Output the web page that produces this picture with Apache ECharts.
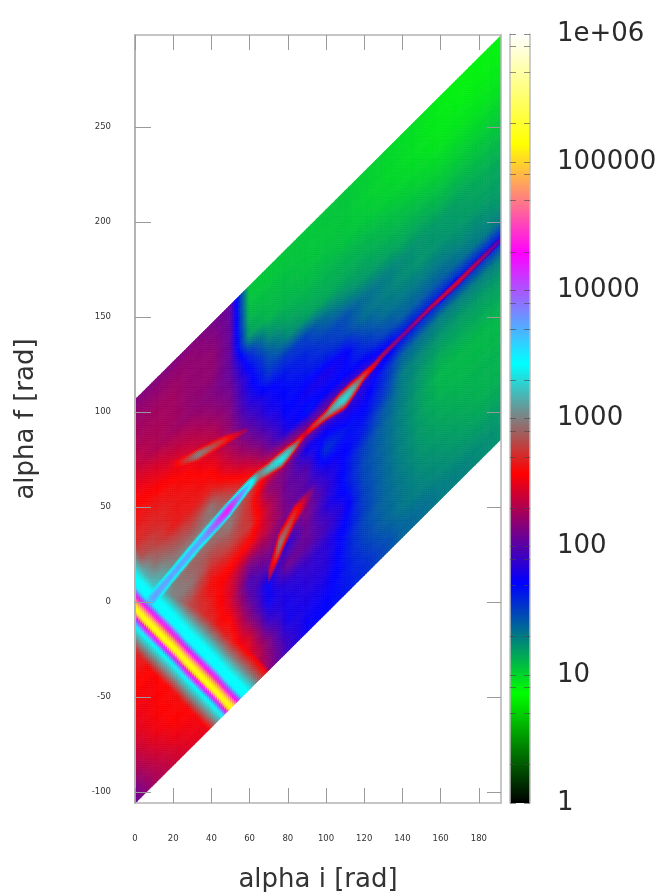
<!DOCTYPE html>
<html><head><meta charset="utf-8">
<style>html,body{margin:0;padding:0;background:#fff}#c{width:661px;height:892px;filter:blur(0.5px)}</style>
<script src="https://cdn.jsdelivr.net/npm/echarts@6/dist/echarts.min.js"></script>
</head><body><div id="c"></div>
<script>
// Colour scale: exponent of the value -> colour
const paletteLevels = [0, 0.857, 1.714, 2.571, 3.429, 4.286, 5.143, 6];
const paletteColors = ['#000000','#00ff00','#0000ff','#ff0000','#00ffff','#ff00ff','#ffff00','#ffffff'];
const barTickLabels = [0,1,2,3,4,5,6];
const barLabelText = ['1','10','100','1000','10000','100000','1e+06'];
const barMinorTicks = [0,0.301,0.699,0.903,1,1.301,1.699,1.903,2,2.301,2.699,2.903,3,3.301,3.699,3.903,4,4.301,4.699,4.903,5,5.301,5.699,5.903,6];
const xTicks = [0,20,40,60,80,100,120,140,160,180];
const yTicks = [-100,-50,0,50,100,150,200,250];
// Read-off nodes: alpha i, and (alpha f - alpha i)
const xNodes = [0,10,20,30,40,50,60,70,80,90,100,110,120,130,140,150,160,170,180,191.5];
const vNodes = [106.5,100,90,80,70,60,50,40,30,20,10,0,-10,-20,-30,-40,-50,-60,-70,-80,-90,-100,-106];
// log10 of the value at each node, one row per vNodes entry
const zRows = [
[2.15,2.15,2.15,2.15,2.12,2.05,1.05,1.05,1.05,1.05,1.05,1.05,1.02,1.0,.98,.95,.92,.9,.9,.9],
[2.2,2.2,2.2,2.2,2.15,2.05,1.05,1.05,1.05,1.05,1.05,1.05,1.02,1.0,.98,.95,.92,.9,.9,.9],
[2.25,2.25,2.25,2.2,2.2,2.05,1.1,1.08,1.08,1.05,1.05,1.05,1.02,1.0,.98,.95,.93,.92,.92,.92],
[2.3,2.28,2.25,2.2,2.2,2.05,1.2,1.1,1.1,1.08,1.08,1.06,1.05,1.02,1.0,.98,.95,.95,.95,.95],
[2.4,2.3,2.25,2.2,2.15,2.05,1.6,1.25,1.15,1.12,1.12,1.12,1.1,1.08,1.05,1.02,1.0,1.0,1.0,1.0],
[2.5,2.45,2.35,2.3,2.2,2.1,1.75,1.45,1.25,1.18,1.15,1.15,1.15,1.12,1.1,1.08,1.05,1.05,1.05,1.05],
[2.6,2.55,2.5,2.4,2.3,2.15,1.8,1.55,1.55,1.5,1.35,1.25,1.2,1.18,1.15,1.15,1.12,1.12,1.1,1.1],
[2.65,2.65,2.62,2.55,2.4,2.2,1.9,1.75,1.65,1.6,1.5,1.45,1.35,1.3,1.25,1.22,1.2,1.18,1.15,1.15],
[2.72,2.7,2.65,2.62,2.55,2.3,2.05,1.8,1.7,1.65,1.6,1.5,1.35,1.3,1.25,1.22,1.22,1.2,1.18,1.18],
[2.88,2.8,2.65,2.65,2.65,2.45,2.2,1.95,1.7,1.78,1.8,1.75,1.5,1.35,1.32,1.3,1.3,1.25,1.25,1.2],
[3.4,2.95,2.85,2.8,2.95,2.7,2.45,2.1,1.8,1.65,1.72,1.7,1.65,1.5,1.4,1.4,1.4,1.35,1.3,1.3],
[3.5,3.2,3.0,3.0,3.0,3.0,2.8,2.55,2.4,2.2,2.15,2.0,1.9,1.8,1.7,1.65,1.65,1.65,1.65,1.65],
[3.0,3.4,3.0,2.9,2.9,2.95,2.7,2.2,2.1,1.75,1.75,1.85,1.8,1.6,1.4,1.35,1.3,1.3,1.3,1.3],
[2.85,2.8,3.0,2.95,2.75,2.8,2.75,2.35,2.05,2.0,1.55,1.65,1.7,1.55,1.3,1.25,1.22,1.2,1.2,1.2],
[2.65,2.75,2.9,2.8,2.6,2.6,2.55,2.35,2.1,2.0,1.8,1.72,1.62,1.42,1.3,1.2,1.15,1.15,1.15,1.15],
[2.6,2.6,2.7,2.8,2.65,2.45,2.15,2.2,2.1,2.15,1.9,1.68,1.5,1.38,1.28,1.18,1.1,1.1,1.1,1.1],
[2.55,2.55,2.65,2.7,2.7,2.45,1.95,2.05,1.85,2.1,1.85,1.68,1.48,1.38,1.28,1.18,1.12,1.1,1.1,1.1],
[2.5,2.55,2.6,2.7,2.7,2.58,2.05,1.72,2.1,2.05,1.95,1.78,1.5,1.38,1.28,1.2,1.15,1.12,1.12,1.12],
[2.45,2.55,2.6,2.65,2.7,2.7,2.2,1.75,1.85,1.9,1.85,1.7,1.52,1.38,1.3,1.22,1.18,1.15,1.12,1.12],
[2.35,2.5,2.58,2.6,2.62,2.7,2.45,1.9,1.78,1.85,1.85,1.65,1.48,1.38,1.32,1.25,1.22,1.18,1.15,1.15],
[2.25,2.4,2.52,2.55,2.6,2.65,2.5,2.15,1.78,1.8,1.78,1.65,1.52,1.4,1.32,1.28,1.25,1.22,1.2,1.2],
[2.1,2.3,2.42,2.5,2.55,2.58,2.5,2.2,1.9,1.75,1.72,1.65,1.58,1.48,1.38,1.35,1.3,1.28,1.25,1.22],
[2.05,2.25,2.38,2.45,2.5,2.55,2.45,2.2,1.9,1.75,1.72,1.65,1.58,1.48,1.38,1.35,1.3,1.28,1.25,1.22]
];
// Narrow stripe running from the top-left down to the lower edge
const bandY0 = -3.2, bandSlope = 1.035;
const bandOffsets = [-24,-16,-11,-8.5,-6,-4,-2.5,0,2.5,5,6.7,9,11,17,20,26,32,38];
const bandLogs = [2.5,3.0,3.3,3.45,4.0,4.3,5.0,5.2,5.0,4.6,4.25,3.9,3.45,3.43,3.3,3.0,2.75,2.5];
// Main diagonal ridge
const ridgeX = [6,10,35,49,60,65,70,74,77,80,84,89,93,100,103,107,110,113,116,120,125,130,140,155,169,180,192];
const ridgeY = [-1,2.6,32.6,48.4,61.6,66.8,70,73,75,78,82,88,92,98,101,104.7,107,110.5,114,119,124,130,140,155,168,179,191];
const ridgePeak = [3.6,3.75,3.75,4.25,3.6,3.0,3.2,3.3,3.35,3.25,3.0,2.4,2.7,2.95,3.1,3.25,3.3,3.22,3.05,2.8,2.5,2.3,2.15,2.35,2.45,2.3,2.0];
const ridgeWidth = [5,5,5,5,4,3.5,3.8,4.6,5,4.5,3,2,2.5,3,4.5,6,6.5,6,4.8,3.2,2.5,2.2,2.2,2.2,2.6,2.4,2.2];
// Upper-left side lobe
const lobeAX = [17.6,33,47,59];
const lobeAY = [70.5,77.4,85,90.5];
const lobeAPeak = [2.4,3.0,2.7,2.2];
const lobeAWidth = [2,3.5,3,1.5];
// Lower-right side lobe
const lobeBX = [69.6,75.8,83.6,94.5];
const lobeBY = [12.6,30,45.8,60];
const lobeBPeak = [2.2,2.98,2.7,2.0];
const lobeBWidth = [5,8,6,3];

function lerp(xs, ys, x) {
  if (x < xs[0] || x > xs[xs.length-1]) return null;
  for (let i = 1; i < xs.length; i++) if (x <= xs[i]) {
    const t = (x - xs[i-1]) / (xs[i] - xs[i-1]);
    return ys[i-1] + t * (ys[i] - ys[i-1]);
  }
  return ys[ys.length-1];
}
function nodeValue(c, r, a, b) { // bilinear shading inside one read-off cell
  const p = zRows[r], q = zRows[r+1];
  return (p[c]*(1-a)+p[c+1]*a)*(1-b) + (q[c]*(1-a)+q[c+1]*a)*b;
}
const features = [
  [ridgeX,ridgeY,ridgePeak,ridgeWidth],
  [lobeAX,lobeAY,lobeAPeak,lobeAWidth],
  [lobeBX,lobeBY,lobeBPeak,lobeBWidth]
];
function shade(c, r, a, b, x, y) {
  const base = nodeValue(c, r, a, b);
  let z = base;
  const s = x - (bandY0 - y) / bandSlope;
  const bv = lerp(bandOffsets, bandLogs, s);
  if (bv !== null && bv > z) z = bv;
  for (const f of features) {
    const yc = lerp(f[0], f[1], x);
    if (yc === null) continue;
    const pk = lerp(f[0], f[2], x), w = lerp(f[0], f[3], x);
    const t = (y - yc) / w;
    if (Math.abs(t) < 1 && pk > base) {
      const k = base + (pk - base) * (1 - t*t);
      if (k > z) z = k;
    }
  }
  return z;
}
const rgb = paletteColors.map(h => [parseInt(h.slice(1,3),16),parseInt(h.slice(3,5),16),parseInt(h.slice(5,7),16)]);
function colorOf(z) {
  z = Math.max(0, Math.min(6, z));
  for (let i = 1; i < paletteLevels.length; i++) if (z <= paletteLevels[i]) {
    const t = (z - paletteLevels[i-1]) / (paletteLevels[i] - paletteLevels[i-1]);
    const m = j => Math.round(rgb[i-1][j] + t * (rgb[i][j] - rgb[i-1][j]));
    return 'rgb(' + m(0) + ',' + m(1) + ',' + m(2) + ')';
  }
  return '#fff';
}
const cells = [];
for (let r = 0; r < vNodes.length-1; r++) for (let c = 0; c < xNodes.length-1; c++) cells.push([xNodes[c], xNodes[c]+vNodes[r], c, r]);
const SUB = 10;
function renderCell(params, api) {
  const c = api.value(2), r = api.value(3);
  const x0 = xNodes[c], dx = xNodes[c+1]-x0, v0 = vNodes[r], dv = vNodes[r+1]-v0;
  const children = [];
  for (let i = 0; i < SUB; i++) for (let j = 0; j < SUB; j++) {
    const a0=i/SUB, a1=(i+1)/SUB, b0=j/SUB, b1=(j+1)/SUB;
    const pt = (a,b) => { const x=x0+a*dx, v=v0+b*dv; return api.coord([x, x+v]); };
    const am=(a0+a1)/2, bm=(b0+b1)/2, xm=x0+am*dx, vm=v0+bm*dv;
    const col = colorOf(shade(c, r, am, bm, xm, xm+vm));
    children.push({type:'polygon', silent:true,
      shape:{points:[pt(a0,b0),pt(a1,b0),pt(a1,b1),pt(a0,b1)]},
      style:{fill:col, stroke:col, lineWidth:0.6}});
  }
  return {type:'group', children};
}
function renderBar(params, api) {
  const p0 = api.coord([0, 6]), p1 = api.coord([1, 0]);
  const stops = paletteLevels.map((l,i) => ({offset:l/6, color:paletteColors[i]}));
  return {type:'rect', silent:true,
    shape:{x:p0[0], y:p0[1], width:p1[0]-p0[0], height:p1[1]-p0[1]},
    style:{fill:new echarts.graphic.LinearGradient(0,1,0,0,stops)}};
}
const frame = {lineStyle:{color:'#b4b4b4', width:1.5}};
const tickStyle = {color:'#9a9a9a', width:1};
const smallLabel = {fontFamily:'DejaVu Sans', fontSize:8.5, color:'#333'};
const xRange = {min:0, max:191.6}, yRange = {min:-105.8, max:298.4};
const chart = echarts.init(document.getElementById('c'), null, {renderer:'canvas'});
chart.setOption({
  animation:false, backgroundColor:'#fff',
  grid:[
    {left:135, top:35, width:366, height:768, outerBoundsMode:'none'},
    {left:510, top:34, width:20, height:769, outerBoundsMode:'none'}
  ],
  xAxis:[
    {type:'value', gridIndex:0, position:'bottom', ...xRange, z:5, splitLine:{show:false},
      axisLine:{show:true, onZero:false, ...frame},
      axisTick:{show:true, inside:true, length:15, lineStyle:tickStyle, customValues:xTicks},
      axisLabel:{...smallLabel, margin:31, customValues:xTicks},
      name:'alpha i [rad]', nameLocation:'middle', nameGap:64,
      nameTextStyle:{fontFamily:'DejaVu Sans', fontSize:26, color:'#333'}},
    {type:'value', gridIndex:0, position:'top', ...xRange, z:5, splitLine:{show:false},
      axisLine:{show:true, onZero:false, ...frame},
      axisTick:{show:true, inside:true, length:15, lineStyle:tickStyle, customValues:xTicks},
      axisLabel:{show:false}},
    {type:'value', gridIndex:1, min:0, max:1, show:false}
  ],
  yAxis:[
    {type:'value', gridIndex:0, position:'left', ...yRange, z:5, splitLine:{show:false},
      axisLine:{show:true, onZero:false, lineStyle:{color:'#b4b4b4', width:2}},
      axisTick:{show:true, inside:true, length:16, lineStyle:tickStyle, customValues:yTicks},
      axisLabel:{...smallLabel, margin:24, customValues:yTicks},
      name:'alpha f [rad]', nameLocation:'middle', nameGap:96,
      nameTextStyle:{fontFamily:'DejaVu Sans', fontSize:26, color:'#333'}},
    {type:'value', gridIndex:0, position:'right', ...yRange, z:5, splitLine:{show:false},
      axisLine:{show:true, onZero:false, ...frame},
      axisTick:{show:true, inside:true, length:14, lineStyle:tickStyle, customValues:yTicks},
      axisLabel:{show:false}},
    {type:'value', gridIndex:1, position:'right', min:0, max:6, z:5, splitLine:{show:false},
      axisLine:{show:true, onZero:false, lineStyle:{color:'#bdbdbd', width:1.5}},
      axisTick:{show:true, inside:true, length:6, lineStyle:{color:'rgba(70,70,70,.6)', width:1}, customValues:barMinorTicks},
      axisLabel:{fontFamily:'DejaVu Sans', fontSize:26, color:'#2a2a2a', margin:27, padding:[0,0,12,0],
        customValues:barTickLabels, formatter:v => barLabelText[barTickLabels.indexOf(Math.round(v))]}},
    {type:'value', gridIndex:1, position:'left', min:0, max:6, z:5, splitLine:{show:false},
      axisLine:{show:true, onZero:false, lineStyle:{color:'#bdbdbd', width:1.5}},
      axisTick:{show:true, inside:true, length:6, lineStyle:{color:'rgba(70,70,70,.6)', width:1}, customValues:barMinorTicks},
      axisLabel:{show:false}}
  ],
  series:[
    {type:'custom', coordinateSystem:'cartesian2d', xAxisIndex:0, yAxisIndex:0, z:1, clip:true, silent:true,
      renderItem:renderCell, data:cells, progressive:0},
    {type:'custom', coordinateSystem:'cartesian2d', xAxisIndex:2, yAxisIndex:2, z:1, silent:true,
      renderItem:renderBar, data:[[0,0]]}
  ]
});
</script></body></html>
